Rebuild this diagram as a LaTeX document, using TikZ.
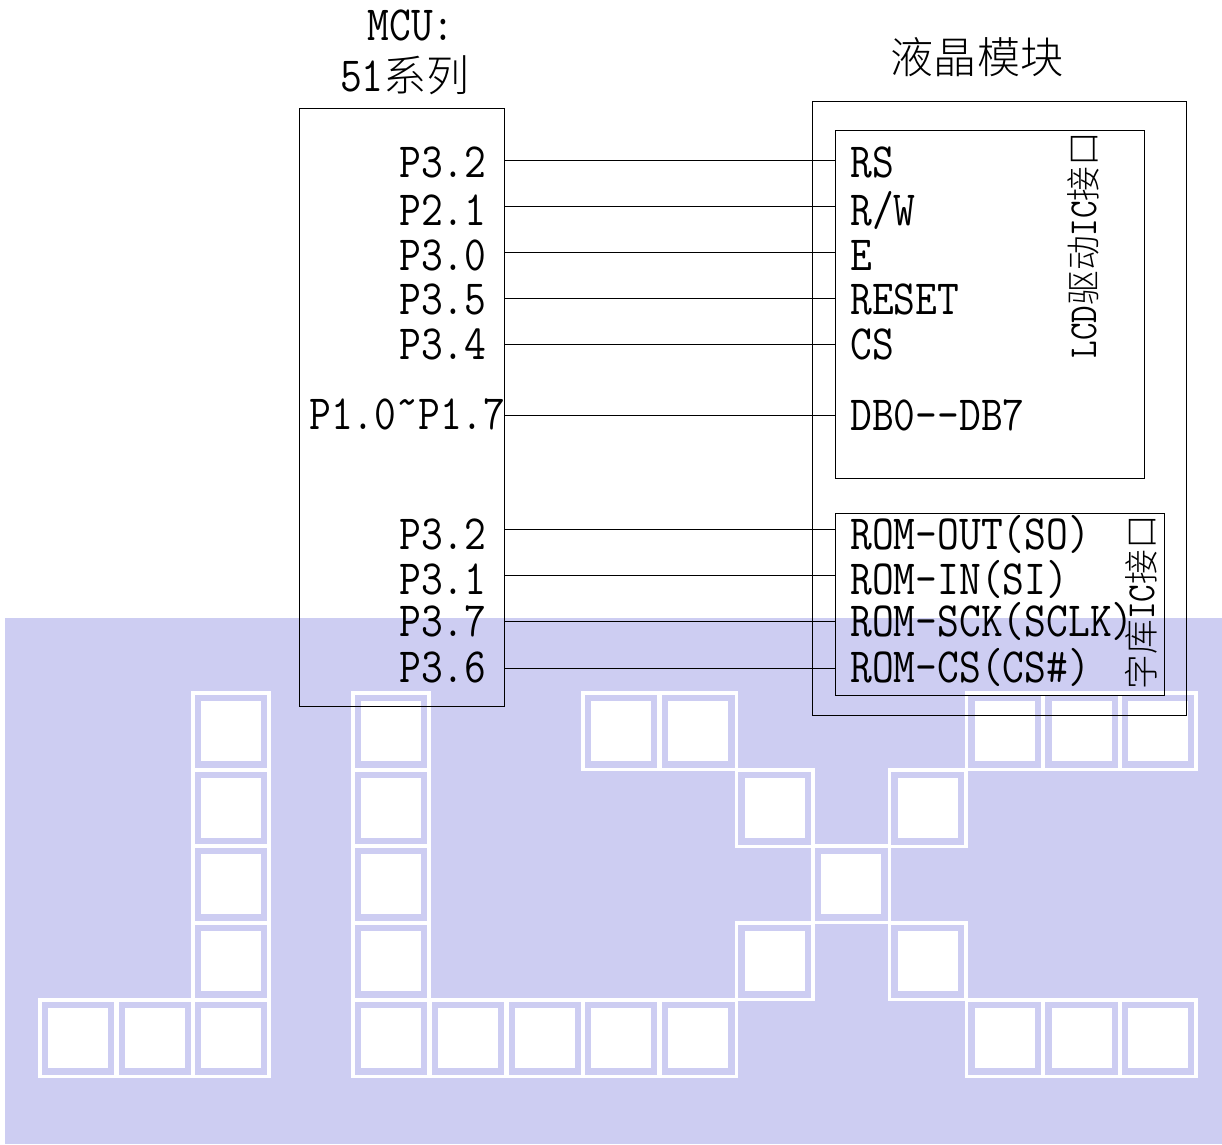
\documentclass[tikz,border=0pt]{standalone}
\usepackage{fontspec}
\setmainfont{Latin Modern Mono}[FakeStretch=0.86]
\newfontfamily\cjk{Noto Sans CJK SC Light}[Scale=0.875]
\usepackage{tikz}
\definecolor{bandblue}{RGB}{205,205,242}
\tikzstyle{box} = [rectangle, draw=black, line width=0.55pt, inner sep=0pt]
\tikzstyle{pin} = [anchor=west, inner sep=0pt, font=\fontsize{28}{30}\selectfont]
\tikzstyle{title} = [inner sep=0pt, font=\fontsize{28}{30}\selectfont]
\tikzstyle{sidetitle} = [inner sep=0pt, rotate=90, font=\fontsize{22.6}{24}\selectfont]
\tikzstyle{wire} = [line width=0.55pt]
\tikzstyle{cellout} = [rectangle, draw=white, line width=2pt, minimum size=1.53cm, inner sep=0pt]
\tikzstyle{cellin} = [rectangle, fill=white, minimum size=1.2cm, inner sep=0pt]

\begin{document}
\begin{tikzpicture}[x=0.02cm, y=-0.02cm]
        \useasboundingbox (0,0) rectangle (1222,1144);
        \fill [bandblue] (5,618) rectangle (1222,1144);
        % pattern cells
        \foreach \cx/\cy in {231/731,391/731,621/731,698/731,1004.5/731,1081.5/731,1157.5/731,
                231/808,391/808,774.5/808,927.5/808,
                231/884,391/884,851/884,
                231/961,391/961,774.5/961,927.5/961,
                78/1038,155/1038,231/1038,391/1038,468/1038,545/1038,621/1038,698/1038,1004.5/1038,1081.5/1038,1157.5/1038} {
            \node [cellout] at (\cx,\cy) (o\cx-\cy) {};
            \node [cellin] at (\cx,\cy) (i\cx-\cy) {};
        }
        % boxes
        \node [box, minimum width=4.1cm, minimum height=11.98cm] at (402,407.5) (mcu) {};
        \node [box, minimum width=7.48cm, minimum height=12.28cm] at (999.5,408.5) (module) {};
        \node [box, minimum width=6.18cm, minimum height=6.98cm] at (989.5,304.5) (lcd) {};
        \node [box, minimum width=6.58cm, minimum height=3.64cm] at (1000,604) (rom) {};
        % titles
        \node [title] at (411,25) (mcutitle) {MCU:};
        \node [title] at (405,75) (mcuseries) {51{\cjk 系列}};
        \node [title] at (977,57) (moduletitle) {\cjk 液晶模块};
        \node [sidetitle] at (1083,245) (lcdtitle) {LCD{\cjk 驱动}IC{\cjk 接口}};
        \node [sidetitle] at (1141,602) (romtitle) {{\cjk 字库}IC{\cjk 接口}};
        % mcu pins
        \node [pin] at (399,162) (pa) {P3.2};
        \node [pin] at (399,210) (pb) {P2.1};
        \node [pin] at (399,255) (pc) {P3.0};
        \node [pin] at (399,299) (pd) {P3.5};
        \node [pin] at (399,344) (pe) {P3.4};
        \node [pin] at (309,414) (pf) {P1.0\raisebox{0.55ex}{\char`\~}P1.7};
        \node [pin] at (399,534) (pg) {P3.2};
        \node [pin] at (399,579) (ph) {P3.1};
        \node [pin] at (399,621) (pi) {P3.7};
        \node [pin] at (399,667) (pj) {P3.6};
        % module pins
        \node [pin] at (850,162) (qa) {RS};
        \node [pin] at (850,210) (qb) {R/W};
        \node [pin] at (850,255) (qc) {E};
        \node [pin] at (850,299) (qd) {RESET};
        \node [pin] at (850,344) (qe) {CS};
        \node [pin] at (850,415) (qf) {DB0{-}{-}DB7};
        \node [pin] at (850,534) (qg) {ROM-OUT(SO)};
        \node [pin] at (850,579) (qh) {ROM-IN(SI)};
        \node [pin] at (850,621) (qi) {ROM-SCK(SCLK)};
        \node [pin] at (850,667) (qj) {ROM-CS(CS\#)};
        % wires
        \foreach \n/\wy in {a/160,b/206,c/252,d/298,e/344,f/415,g/529,h/575,i/621,j/668} {
            \coordinate (ma\n) at (mcu.east |- 0,\wy);
            \coordinate (mb\n) at (lcd.west |- 0,\wy);
            \draw [wire] (ma\n) -- (mb\n);
        }
\end{tikzpicture}
\end{document}
